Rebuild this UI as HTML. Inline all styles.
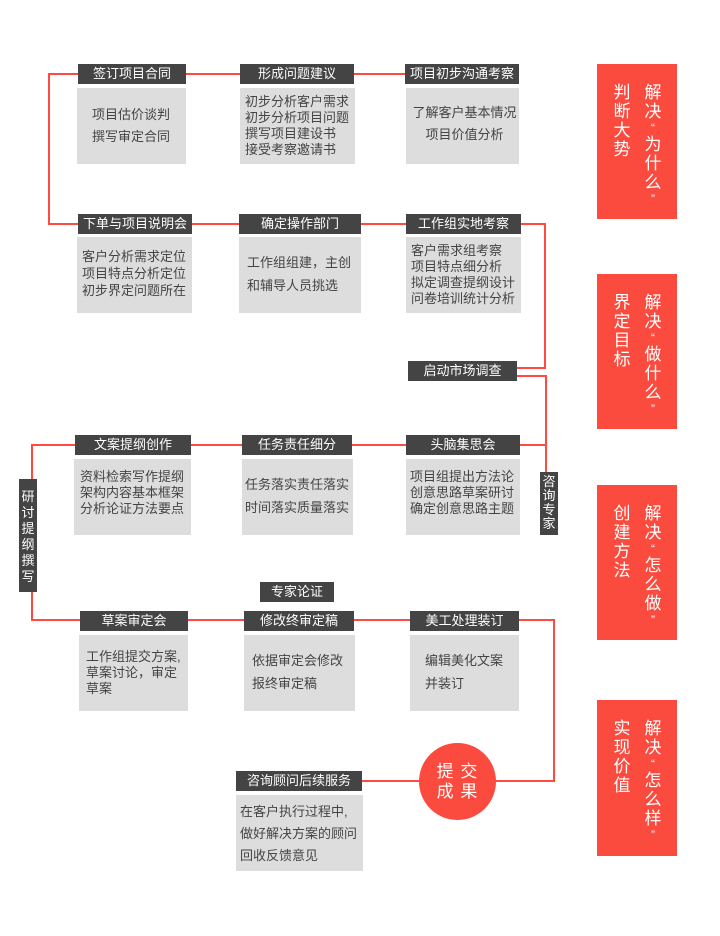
<!DOCTYPE html>
<html><head><meta charset="utf-8"><style>
body{margin:0;width:720px;height:936px;background:#fff;position:relative;overflow:hidden;font-family:"Liberation Sans","Noto Sans CJK SC",sans-serif}
.h{position:absolute;height:20px;background:#444;color:#fff;font-size:13px;line-height:20px;text-align:center;white-space:nowrap}
.b{position:absolute;background:#dedddd;color:#444;font-size:13px;box-sizing:border-box;white-space:nowrap}
.v{position:absolute;width:18px;background:#444;color:#fff;font-size:13px;line-height:16px;text-align:center;box-sizing:border-box;padding-top:4px;word-break:break-all;white-space:normal}
.p{position:absolute;left:597px;width:80px;background:#fb4a3e;color:#fff;font-size:17px}
.p .c{position:absolute;width:20px;text-align:center}
.p .c span{display:block;height:19px;line-height:19px}
.p .c span.q{height:14px;line-height:14px;font-size:12px}
</style></head><body>
<svg width="720" height="936" style="position:absolute;left:0;top:0" fill="none" stroke="#ff4a42" stroke-width="2">
<polyline points="406,74 49,74 49,224 545,224 545,368 517,368"/>
<polyline points="517,376 546,376 546,472"/>
<polyline points="546,445 32,445 32,620 554,620 554,781 362,781"/>
</svg>

<div class="h" style="left:78px;top:64px;width:108px">签订项目合同</div>
<div class="b" style="left:77px;top:88px;width:109px;height:76px;padding:16px 0 0 15px;line-height:22px">项目估价谈判<br>撰写审定合同</div>
<div class="h" style="left:240px;top:64px;width:114px">形成问题建议</div>
<div class="b" style="left:240px;top:88px;width:115px;height:76px;padding:6px 0 0 5px;line-height:16px">初步分析客户需求<br>初步分析项目问题<br>撰写项目建设书<br>接受考察邀请书</div>
<div class="h" style="left:405px;top:64px;width:114px">项目初步沟通考察</div>
<div class="b" style="left:406px;top:88px;width:113px;height:76px;padding:14px 0 0 4px;line-height:22px;text-align:center">了解客户基本情况<br>项目价值分析</div>

<div class="h" style="left:78px;top:214px;width:114px">下单与项目说明会</div>
<div class="b" style="left:77px;top:237px;width:115px;height:76px;padding:11px 0 0 5px;line-height:17px">客户分析需求定位<br>项目特点分析定位<br>初步界定问题所在</div>
<div class="h" style="left:239px;top:214px;width:122px">确定操作部门</div>
<div class="b" style="left:239px;top:237px;width:122px;height:76px;padding:14px 0 0 8px;line-height:23px">工作组组建，主创<br>和辅导人员挑选</div>
<div class="h" style="left:406px;top:214px;width:115px">工作组实地考察</div>
<div class="b" style="left:406px;top:237px;width:115px;height:76px;padding:6px 0 0 5px;line-height:16px">客户需求组考察<br>项目特点细分析<br>拟定调查提纲设计<br>问卷培训统计分析</div>

<div class="h" style="left:408px;top:361px;width:109px">启动市场调查</div>
<div class="v" style="left:540px;top:472px;height:63px;line-height:14px;padding-top:3px">咨询专家</div>
<div class="v" style="left:19px;top:479px;height:113px;padding-top:10px">研讨提纲撰写</div>

<div class="h" style="left:75px;top:435px;width:116px">文案提纲创作</div>
<div class="b" style="left:74px;top:459px;width:117px;height:76px;padding:10px 0 0 6px;line-height:16px">资料检索写作提纲<br>架构内容基本框架<br>分析论证方法要点</div>
<div class="h" style="left:242px;top:435px;width:110px">任务责任细分</div>
<div class="b" style="left:242px;top:459px;width:111px;height:76px;padding:14px 0 0 3px;line-height:23px">任务落实责任落实<br>时间落实质量落实</div>
<div class="h" style="left:406px;top:435px;width:114px">头脑集思会</div>
<div class="b" style="left:406px;top:459px;width:114px;height:76px;padding:10px 0 0 4px;line-height:16px">项目组提出方法论<br>创意思路草案研讨<br>确定创意思路主题</div>

<div class="h" style="left:260px;top:582px;width:74px">专家论证</div>

<div class="h" style="left:80px;top:611px;width:108px">草案审定会</div>
<div class="b" style="left:79px;top:635px;width:109px;height:76px;padding:14px 0 0 7px;line-height:16px">工作组提交方案,<br>草案讨论，审定<br>草案</div>
<div class="h" style="left:244px;top:611px;width:110px">修改终审定稿</div>
<div class="b" style="left:244px;top:635px;width:111px;height:76px;padding:14px 0 0 8px;line-height:23px">依据审定会修改<br>报终审定稿</div>
<div class="h" style="left:410px;top:611px;width:109px">美工处理装订</div>
<div class="b" style="left:410px;top:635px;width:109px;height:76px;padding:14px 0 0 15px;line-height:23px">编辑美化文案<br>并装订</div>

<div style="position:absolute;left:419px;top:743px;width:77px;height:77px;border-radius:50%;background:#fb4a3e;color:#fff;font-size:17px;line-height:20px;text-align:center;box-sizing:border-box;padding-top:19px;letter-spacing:1px">提 交<br>成 果</div>

<div class="h" style="left:236px;top:771px;width:126px">咨询顾问后续服务</div>
<div class="b" style="left:236px;top:795px;width:127px;height:76px;padding:6px 0 0 4px;line-height:22px">在客户执行过程中,<br>做好解决方案的顾问<br>回收反馈意见</div>

<div class="p" style="top:64px;height:155px"><div class="c" style="left:15px;top:19px"><span>判</span><span>断</span><span>大</span><span>势</span></div><div class="c" style="left:46px;top:19px"><span>解</span><span>决</span><span class="q">“</span><span>为</span><span>什</span><span>么</span><span class="q">”</span></div></div>
<div class="p" style="top:274px;height:155px"><div class="c" style="left:15px;top:19px"><span>界</span><span>定</span><span>目</span><span>标</span></div><div class="c" style="left:46px;top:19px"><span>解</span><span>决</span><span class="q">“</span><span>做</span><span>什</span><span>么</span><span class="q">”</span></div></div>
<div class="p" style="top:485px;height:155px"><div class="c" style="left:15px;top:19px"><span>创</span><span>建</span><span>方</span><span>法</span></div><div class="c" style="left:46px;top:19px"><span>解</span><span>决</span><span class="q">“</span><span>怎</span><span>么</span><span>做</span><span class="q">”</span></div></div>
<div class="p" style="top:700px;height:156px"><div class="c" style="left:15px;top:19px"><span>实</span><span>现</span><span>价</span><span>值</span></div><div class="c" style="left:46px;top:19px"><span>解</span><span>决</span><span class="q">“</span><span>怎</span><span>么</span><span>样</span><span class="q">”</span></div></div>
</body></html>
